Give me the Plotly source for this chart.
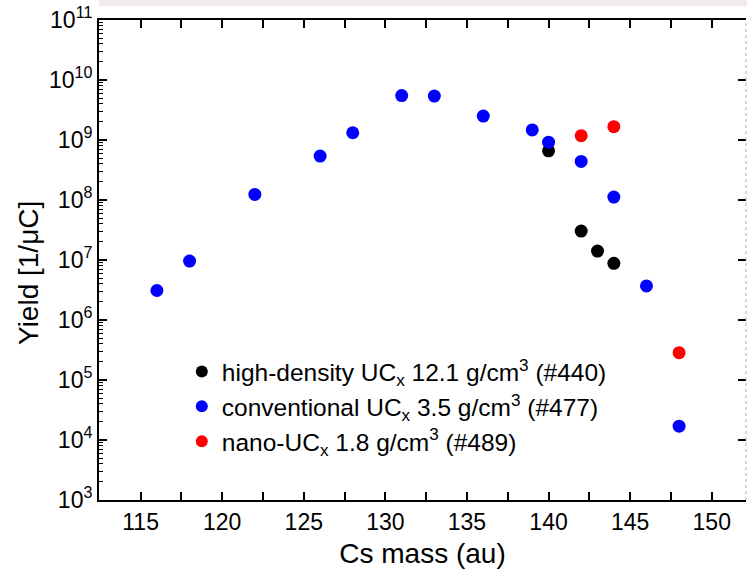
import plotly.graph_objects as go

# Data
blue_mass = [116, 118, 122, 126, 128, 131, 133, 136, 139, 140, 142, 144, 146, 148]
blue_yield = [3.1e6, 9.6e6, 1.24e8, 5.4e8, 1.32e9, 5.5e9, 5.4e9, 2.5e9, 1.47e9, 9.2e8, 4.4e8, 1.12e8, 3.7e6, 1.7e4]
black_mass = [140, 142, 143, 144]
black_yield = [6.6e8, 3.04e7, 1.41e7, 8.8e6]
red_mass = [142, 144, 148]
red_yield = [1.18e9, 1.67e9, 2.85e5]

names = [
    "high-density UC<sub>x</sub> 12.1 g/cm<sup>3</sup> (#440)",
    "conventional UC<sub>x</sub> 3.5 g/cm<sup>3</sup> (#477)",
    "nano-UC<sub>x</sub> 1.8 g/cm<sup>3</sup> (#489)",
]

x_ticks = [115, 120, 125, 130, 135, 140, 145, 150]
y_exps = list(range(3, 12))

FONT = "Liberation Sans, Arial, sans-serif"

fig = go.Figure()
for xs, ys, col, nm in [
    (black_mass, black_yield, "#000000", names[0]),
    (blue_mass, blue_yield, "#0000ff", names[1]),
    (red_mass, red_yield, "#ff0000", names[2]),
]:
    fig.add_trace(go.Scatter(x=xs, y=ys, mode="markers", name=nm,
                             marker=dict(color=col, size=13, line=dict(width=0))))

# invisible helper trace so the right-hand tick axis is drawn
fig.add_trace(go.Scatter(x=[blue_mass[0]], y=[blue_yield[0]], yaxis="y2", mode="markers",
                         marker=dict(opacity=0), showlegend=False, hoverinfo="skip"))

y_minor = [m * 10 ** e for e in range(3, 11) for m in range(2, 10)]
x_minor = [117.5, 122.5, 127.5, 132.5, 137.5, 142.5, 147.5, 152.5]

fig.update_layout(
    width=747, height=574,
    margin=dict(l=99, r=1, t=20, b=74),
    paper_bgcolor="white", plot_bgcolor="white",
    font=dict(family=FONT, color="black", size=23),
    showlegend=True,
    legend=dict(x=0.128, y=0.3145, xanchor="left", yanchor="top",
                bgcolor="rgba(0,0,0,0)", font=dict(size=24.5, family=FONT),
                itemsizing="constant", tracegroupgap=0),
    xaxis=dict(
        range=[112.45, 152.1], showgrid=False, zeroline=False,
        showline=True, linecolor="black", linewidth=2, mirror="allticks",
        ticks="inside", ticklen=8, tickwidth=2, tickcolor="black",
        tickvals=x_ticks, ticktext=[str(v) for v in x_ticks],
        tickfont=dict(size=23, family=FONT),
        minor=dict(tickvals=x_minor, ticks="inside", ticklen=4, tickwidth=2, tickcolor="black", showgrid=False),
        title=dict(text="Cs mass (au)", font=dict(size=28, family=FONT), standoff=10),
    ),
    yaxis=dict(
        type="log", range=[3, 11], showgrid=False, zeroline=False,
        showline=True, linecolor="black", linewidth=2, mirror=False,
        ticks="inside", ticklen=8, tickwidth=2, tickcolor="black",
        tickvals=[10 ** e for e in y_exps],
        ticktext=["10<sup>%d</sup>" % e for e in y_exps],
        tickfont=dict(size=23, family=FONT),
        minor=dict(tickvals=y_minor, ticks="inside", ticklen=4, tickwidth=1, tickcolor="black", showgrid=False),
    ),
    yaxis2=dict(
        type="log", range=[3, 11], overlaying="y", side="right",
        showgrid=False, zeroline=False, showline=False,
        ticks="inside", ticklen=8, tickwidth=2, tickcolor="black",
        tickvals=[10 ** e for e in y_exps], showticklabels=False,
    ),
    annotations=[
        dict(text="Yield [1/μC]", textangle=-90, xref="paper", yref="paper",
             x=(28 - 99) / 647, y=(500 - 273) / 480, xanchor="center", yanchor="middle",
             showarrow=False, font=dict(size=28, family=FONT, color="black")),
    ],
    shapes=[
        dict(type="rect", xref="paper", yref="paper", x0=0.0, x1=1.002,
             y0=1 + 14 / 480, y1=1 + 20 / 480, fillcolor="#f1eaea",
             line=dict(width=0), layer="below"),
        dict(type="line", xref="paper", yref="paper", x0=1, x1=1, y0=0, y1=1,
             line=dict(color="#b0b0b0", width=1, dash="dot")),
    ],
)

fig.write_html("out.html")
